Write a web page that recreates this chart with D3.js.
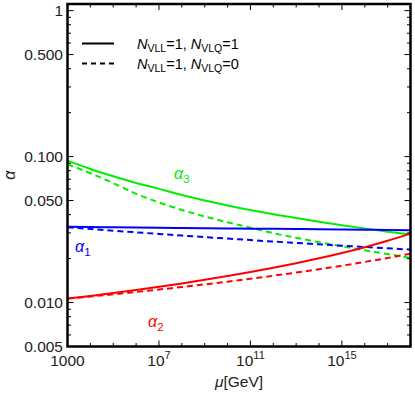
<!DOCTYPE html>
<html><head><meta charset="utf-8">
<script src="https://cdn.jsdelivr.net/npm/d3@7"></script>
<style>body{margin:0;background:#fff}svg{display:block;font-family:"Liberation Sans",Arial,sans-serif}</style>
</head><body><svg id="c" width="415" height="394"></svg>
<script>
const muValues = [1e3,1e4,1e5,1e6,1e7,1e8,1e9,1e10,1e11,1e12,1e13,1e14,1e15,1e16,1e17,1e18];
const alpha1Solid  = [0.0330,0.03288,0.03278,0.03266,0.03254,0.03243,0.03232,0.03221,0.03209,0.03199,0.03188,0.03177,0.03167,0.03156,0.03145,0.03134];
const alpha2Solid  = [0.01064,0.01111,0.01163,0.01220,0.01283,0.01353,0.01431,0.01518,0.01617,0.01730,0.01859,0.02009,0.02185,0.02396,0.02651,0.02967];
const alpha3Solid  = [0.0939,0.0823,0.0733,0.0660,0.0601,0.0546,0.0501,0.0463,0.0430,0.0403,0.0379,0.0358,0.0339,0.0322,0.0306,0.0292];
const alpha1Dashed = [0.03284,0.03194,0.03109,0.03028,0.02951,0.02878,0.02808,0.02742,0.02679,0.02619,0.02561,0.02506,0.02453,0.02402,0.02353,0.02307];
const alpha2Dashed = [0.01064,0.01100,0.01139,0.01182,0.01228,0.01278,0.01332,0.01391,0.01456,0.01527,0.01605,0.01692,0.01789,0.01898,0.02021,0.02162];
const alpha3Dashed = [0.0885,0.0769,0.0658,0.0556,0.0485,0.0431,0.0389,0.0355,0.0326,0.0299,0.0278,0.0259,0.0243,0.0228,0.0215,0.0202];

const yMajor = [0.005,0.01,0.05,0.1,0.5,1];
const yMajorLabels = ["0.005","0.010","0.050","0.100","0.500","1"];
const yMinor = [0.006,0.007,0.008,0.009,0.02,0.03,0.04,0.06,0.07,0.08,0.09,0.2,0.3,0.4,0.6,0.7,0.8,0.9];
const xMajor = [1e3,1e7,1e11,1e15];
const xMajorExp = [3,7,11,15];
const xMinor = [1e4,1e5,1e6,1e8,1e9,1e10,1e12,1e13,1e14,1e16,1e17];

const svg = d3.select("#c");
const L = 67.5, R = 410.5, T = 4, B = 346.5;
const x = d3.scaleLog().domain([1e3,1e18]).range([L,R]);
const y = d3.scaleLog().domain([0.005,1.11]).range([B,T]);

const series = [
  {v: alpha3Solid, c:"#00ee00", d:null},
  {v: alpha3Dashed, c:"#00ee00", d:"6,4"},
  {v: alpha1Solid, c:"#0000ff", d:null},
  {v: alpha1Dashed, c:"#0000ff", d:"6,4"},
  {v: alpha2Solid, c:"#ff0000", d:null},
  {v: alpha2Dashed, c:"#ff0000", d:"6,4"}
];
svg.append("clipPath").attr("id","cp").append("rect").attr("x",L).attr("y",T).attr("width",R-L).attr("height",B-T);
const line = d3.line().x((d,i)=>x(muValues[i])).y(d=>y(d)).curve(d3.curveMonotoneX);
const g = svg.append("g").attr("clip-path","url(#cp)");
series.forEach(s=>{
  g.append("path").attr("d",line(s.v)).attr("fill","none").attr("stroke",s.c)
   .attr("stroke-width",2).attr("stroke-dasharray",s.d);
});

// ticks
const tk = svg.append("g").attr("stroke","#000").attr("stroke-width",1);
xMajor.forEach(v=>{const p=x(v);tk.append("line").attr("x1",p).attr("x2",p).attr("y1",B).attr("y2",B-6);tk.append("line").attr("x1",p).attr("x2",p).attr("y1",T).attr("y2",T+6);});
xMinor.forEach(v=>{const p=x(v);tk.append("line").attr("x1",p).attr("x2",p).attr("y1",B).attr("y2",B-3.5);tk.append("line").attr("x1",p).attr("x2",p).attr("y1",T).attr("y2",T+3.5);});
yMajor.forEach(v=>{const p=y(v);tk.append("line").attr("y1",p).attr("y2",p).attr("x1",L).attr("x2",L+6);tk.append("line").attr("y1",p).attr("y2",p).attr("x1",R).attr("x2",R-6);});
yMinor.forEach(v=>{const p=y(v);tk.append("line").attr("y1",p).attr("y2",p).attr("x1",L).attr("x2",L+3.5);tk.append("line").attr("y1",p).attr("y2",p).attr("x1",R).attr("x2",R-3.5);});

svg.append("rect").attr("x",L).attr("y",T).attr("width",R-L).attr("height",B-T)
  .attr("fill","none").attr("stroke","#000").attr("stroke-width",2.5);

// y labels
yMajor.forEach((v,i)=>{
  svg.append("text").attr("x",63).attr("y",y(v)+5.5).attr("text-anchor","end")
    .attr("font-size",15.5).attr("fill","#222").text(yMajorLabels[i]);
});
// x labels
xMajor.forEach((v,i)=>{
  const t = svg.append("text").attr("x",x(v)).attr("y",366).attr("text-anchor","middle")
    .attr("font-size",15.5).attr("fill","#222");
  if(xMajorExp[i]===3){ t.text("1000"); }
  else { t.append("tspan").text("10"); t.append("tspan").attr("dy",-7).attr("font-size",11).text(xMajorExp[i]); }
});
// axis titles
const xt = svg.append("text").attr("x",(L+R)/2).attr("y",387).attr("text-anchor","middle").attr("font-size",15.5).attr("fill","#222");
xt.append("tspan").attr("font-style","italic").text("μ");
xt.append("tspan").text("[GeV]");
svg.append("text").attr("transform",`translate(15,${(T+B)/2}) rotate(-90)`).attr("text-anchor","middle")
  .attr("font-size",16).attr("font-style","italic").attr("fill","#222").text("α");

// curve labels
function alab(xp,yp,sub,col){
  const t = svg.append("text").attr("x",xp).attr("y",yp).attr("font-size",16).attr("fill",col);
  t.append("tspan").attr("font-style","italic").text("α");
  t.append("tspan").attr("dy",4).attr("font-size",11.5).text(sub);
}
alab(174,179,"3","#00ee00");
alab(75,252,"1","#0000ff");
alab(148,327,"2","#ff0000");

// legend
const lg = [{d:null,y:43.5,v:"1"},{d:"5,4",y:63.5,v:"0"}];
lg.forEach(l=>{
  svg.append("line").attr("x1",82).attr("x2",114).attr("y1",l.y).attr("y2",l.y)
    .attr("stroke","#000").attr("stroke-width",2).attr("stroke-dasharray",l.d);
  const t = svg.append("text").attr("x",137).attr("y",l.y+5).attr("font-size",14.5).attr("fill","#000");
  t.append("tspan").attr("font-style","italic").text("N");
  t.append("tspan").attr("dy",3).attr("font-size",10.5).text("VLL");
  t.append("tspan").attr("dy",-3).text("=1, ");
  t.append("tspan").attr("font-style","italic").text("N");
  t.append("tspan").attr("dy",3).attr("font-size",10.5).text("VLQ");
  t.append("tspan").attr("dy",-3).text("="+l.v);
});
</script></body></html>
